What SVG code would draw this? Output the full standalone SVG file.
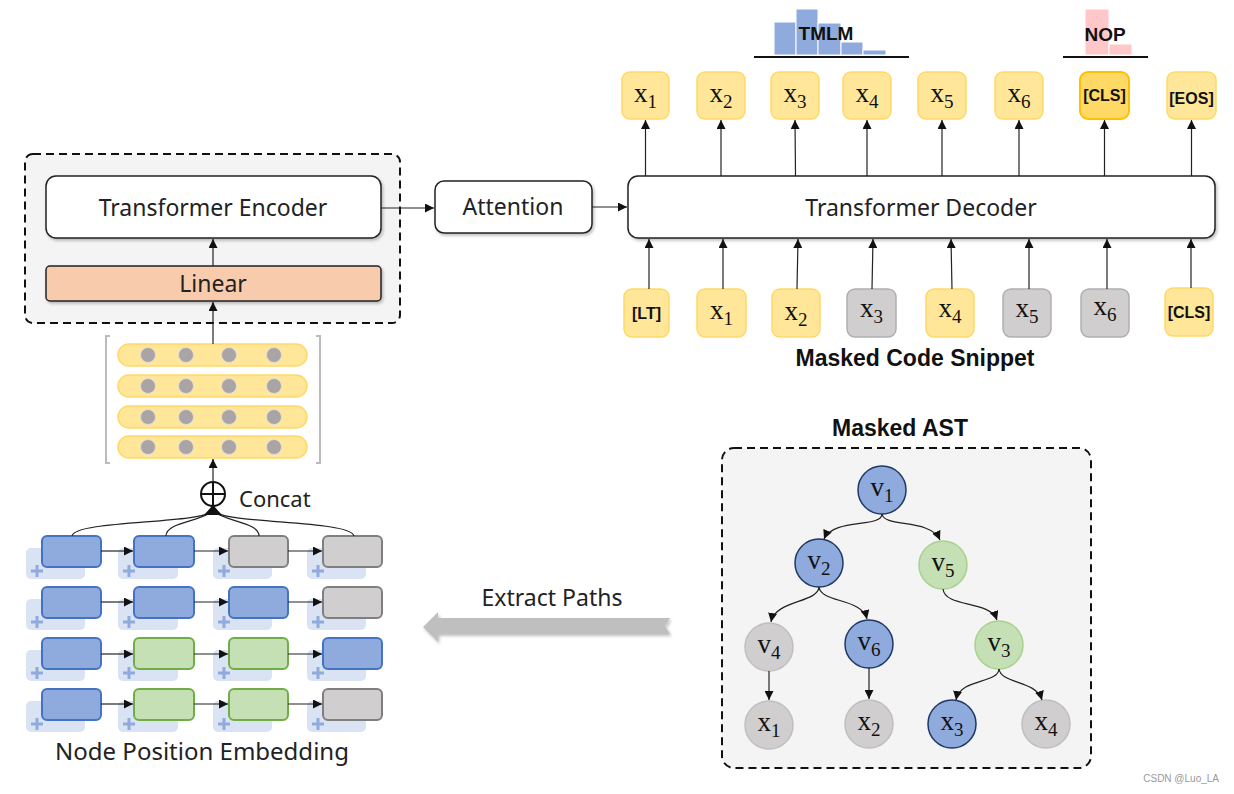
<svg xmlns="http://www.w3.org/2000/svg" width="1234" height="794" viewBox="0 0 1234 794">
<defs>
<style>
.lbl{font-family:"Noto Sans","Open Sans",sans-serif;font-size:23px;fill:#222;text-anchor:middle}
.bold{font-family:"Liberation Sans",Arial,sans-serif;font-weight:bold;fill:#111;text-anchor:middle}
.tk{font-size:16px}
.math{font-family:"Liberation Serif","DejaVu Serif",serif;font-size:27px;fill:#111;text-anchor:middle}
.sub{font-size:19px}
.tok{fill:#ffe699;stroke:#ffd966;stroke-width:1.5}
.tokg{fill:#d0cece;stroke:#b0b0b0;stroke-width:1.5}
.wbox{fill:#fff;stroke:#222;stroke-width:1.5}
.ln{stroke:#222;stroke-width:1.2;fill:none}
.pill{fill:#ffe699;stroke:#ffd966;stroke-width:1.5}
.dot{fill:#aaa4a4;stroke:#dedede;stroke-width:1}
.bshadow{fill:#dae3f3}
.plus{stroke:#8faadc;stroke-width:3}
.gb{fill:#8faadc;stroke:#4472c4;stroke-width:2}
.gg{fill:#c5e0b4;stroke:#70ad47;stroke-width:2}
.gy{fill:#d0cece;stroke:#7f7f7f;stroke-width:2}
.nb{fill:#8faadc;stroke:#1f3864;stroke-width:1.5}
.ng{fill:#c5e0b4;stroke:#a9d18e;stroke-width:1.5}
.ny{fill:#d0cece;stroke:#bfbfbf;stroke-width:1.5}
</style>
<marker id="ah" viewBox="0 0 10 10" refX="10" refY="5" markerWidth="9" markerHeight="9" markerUnits="userSpaceOnUse" orient="auto">
<path d="M0,0 L10,5 L0,10 z" fill="#111"/>
</marker>
<filter id="sh" x="-10%" y="-10%" width="130%" height="140%">
<feDropShadow dx="1.5" dy="2" stdDeviation="1.5" flood-color="#000" flood-opacity="0.25"/>
</filter>
</defs>

<!-- Encoder block -->
<g id="encoder-block">
<rect x="25" y="154" width="375" height="169" rx="8" fill="#f4f4f4" stroke="#111" stroke-width="2" stroke-dasharray="8,5"/>
</g>
<g id="transformer-encoder">
<rect class="wbox" x="46" y="176" width="335" height="62" rx="10" filter="url(#sh)"/>
<text class="lbl" x="213" y="216">Transformer Encoder</text>
</g>
<g id="linear">
<rect x="46" y="266" width="335" height="35" rx="4" fill="#f8cbad" stroke="#222" stroke-width="1.5" filter="url(#sh)"/>
<text class="lbl" x="213" y="292">Linear</text>
</g>

<!-- Embedding matrix -->
<g id="matrix">
<path d="M110,336 L106,336 L106,463 L110,463" fill="none" stroke="#bbb" stroke-width="2"/>
<path d="M316,336 L320,336 L320,463 L316,463" fill="none" stroke="#bbb" stroke-width="2"/>
<rect class="pill" x="118" y="344" width="189" height="22" rx="11"/>
<rect class="pill" x="118" y="375" width="189" height="22" rx="11"/>
<rect class="pill" x="118" y="406" width="189" height="22" rx="11"/>
<rect class="pill" x="118" y="436" width="189" height="22" rx="11"/>
<g>
<circle class="dot" cx="148" cy="355" r="7.5"/><circle class="dot" cx="186" cy="355" r="7.5"/><circle class="dot" cx="229" cy="355" r="7.5"/><circle class="dot" cx="274" cy="355" r="7.5"/>
<circle class="dot" cx="148" cy="386" r="7.5"/><circle class="dot" cx="186" cy="386" r="7.5"/><circle class="dot" cx="229" cy="386" r="7.5"/><circle class="dot" cx="274" cy="386" r="7.5"/>
<circle class="dot" cx="148" cy="417" r="7.5"/><circle class="dot" cx="186" cy="417" r="7.5"/><circle class="dot" cx="229" cy="417" r="7.5"/><circle class="dot" cx="274" cy="417" r="7.5"/>
<circle class="dot" cx="148" cy="447" r="7.5"/><circle class="dot" cx="186" cy="447" r="7.5"/><circle class="dot" cx="229" cy="447" r="7.5"/><circle class="dot" cx="274" cy="447" r="7.5"/>
</g>
</g>

<!-- Concat -->
<g id="concat">
<circle cx="213" cy="494" r="12" fill="#fff" stroke="#111" stroke-width="2"/>
<line x1="201" y1="494" x2="225" y2="494" stroke="#111" stroke-width="2"/>
<line x1="213" y1="482" x2="213" y2="506" stroke="#111" stroke-width="2"/>
<text class="lbl" x="239" y="507" style="text-anchor:start;font-size:22px">Concat</text>
</g>

<!-- Node position embedding grid -->
<g id="grid">
<g id="row1">
<rect class="bshadow" x="26" y="548" width="59" height="31" rx="5"/><rect class="bshadow" x="118" y="548" width="60" height="31" rx="5"/><rect class="bshadow" x="213" y="548" width="59" height="31" rx="5"/><rect class="bshadow" x="307" y="548" width="59" height="31" rx="5"/>
<rect class="gb" x="42" y="536" width="59" height="31" rx="5"/><rect class="gb" x="134" y="536" width="60" height="31" rx="5"/><rect class="gy" x="229" y="536" width="59" height="31" rx="5"/><rect class="gy" x="323" y="536" width="59" height="31" rx="5"/>
</g>
<g id="row2">
<rect class="bshadow" x="26" y="599" width="59" height="31" rx="5"/><rect class="bshadow" x="118" y="599" width="60" height="31" rx="5"/><rect class="bshadow" x="213" y="599" width="59" height="31" rx="5"/><rect class="bshadow" x="307" y="599" width="59" height="31" rx="5"/>
<rect class="gb" x="42" y="587" width="59" height="31" rx="5"/><rect class="gb" x="134" y="587" width="60" height="31" rx="5"/><rect class="gb" x="229" y="587" width="59" height="31" rx="5"/><rect class="gy" x="323" y="587" width="59" height="31" rx="5"/>
</g>
<g id="row3">
<rect class="bshadow" x="26" y="650" width="59" height="31" rx="5"/><rect class="bshadow" x="118" y="650" width="60" height="31" rx="5"/><rect class="bshadow" x="213" y="650" width="59" height="31" rx="5"/><rect class="bshadow" x="307" y="650" width="59" height="31" rx="5"/>
<rect class="gb" x="42" y="638" width="59" height="31" rx="5"/><rect class="gg" x="134" y="638" width="60" height="31" rx="5"/><rect class="gg" x="229" y="638" width="59" height="31" rx="5"/><rect class="gb" x="323" y="638" width="59" height="31" rx="5"/>
</g>
<g id="row4">
<rect class="bshadow" x="26" y="701" width="59" height="31" rx="5"/><rect class="bshadow" x="118" y="701" width="60" height="31" rx="5"/><rect class="bshadow" x="213" y="701" width="59" height="31" rx="5"/><rect class="bshadow" x="307" y="701" width="59" height="31" rx="5"/>
<rect class="gb" x="42" y="689" width="59" height="31" rx="5"/><rect class="gg" x="134" y="689" width="60" height="31" rx="5"/><rect class="gg" x="229" y="689" width="59" height="31" rx="5"/><rect class="gy" x="323" y="689" width="59" height="31" rx="5"/>
</g>
<g id="pluses">
<path class="plus" d="M31,571h12M37,565v12 M123,571h12M129,565v12 M218,571h12M224,565v12 M312,571h12M318,565v12 M31,622h12M37,616v12 M123,622h12M129,616v12 M218,622h12M224,616v12 M312,622h12M318,616v12 M31,673h12M37,667v12 M123,673h12M129,667v12 M218,673h12M224,667v12 M312,673h12M318,667v12 M31,724h12M37,718v12 M123,724h12M129,718v12 M218,724h12M224,718v12 M312,724h12M318,718v12"/>
</g>
<text class="lbl" x="202" y="760" style="font-size:24px">Node Position Embedding</text>
</g>

<!-- Attention -->
<g id="attention">
<rect class="wbox" x="435" y="181" width="157" height="52" rx="9" filter="url(#sh)"/>
<text class="lbl" x="513" y="215">Attention</text>
</g>

<!-- Decoder -->
<g id="transformer-decoder">
<rect class="wbox" x="628" y="176" width="587" height="62" rx="10" filter="url(#sh)"/>
<text class="lbl" x="921" y="216">Transformer Decoder</text>
</g>

<!-- Output tokens -->
<g id="outputs">
<rect class="tok" x="622" y="72" width="47" height="47" rx="8"/><text class="math" x="645.5" y="102">x<tspan class="sub" dy="6">1</tspan></text>
<rect class="tok" x="697" y="72" width="48" height="47" rx="8"/><text class="math" x="721" y="102">x<tspan class="sub" dy="6">2</tspan></text>
<rect class="tok" x="771" y="72" width="48" height="47" rx="8"/><text class="math" x="795" y="102">x<tspan class="sub" dy="6">3</tspan></text>
<rect class="tok" x="843" y="72" width="48" height="47" rx="8"/><text class="math" x="867" y="102">x<tspan class="sub" dy="6">4</tspan></text>
<rect class="tok" x="918" y="72" width="48" height="47" rx="8"/><text class="math" x="942" y="102">x<tspan class="sub" dy="6">5</tspan></text>
<rect class="tok" x="995" y="72" width="48" height="47" rx="8"/><text class="math" x="1019" y="102">x<tspan class="sub" dy="6">6</tspan></text>
<rect x="1080" y="72" width="49" height="47" rx="8" fill="#ffd966" stroke="#ffc000" stroke-width="2"/><text class="bold tk" x="1104.5" y="101">[CLS]</text>
<rect class="tok" x="1167" y="72" width="49" height="47" rx="8"/><text class="bold tk" x="1191.5" y="104">[EOS]</text>
</g>

<!-- Input tokens -->
<g id="inputs">
<rect class="tok" x="624" y="289" width="45" height="48" rx="8"/><text class="bold tk" x="646.5" y="319">[LT]</text>
<rect class="tok" x="697" y="289" width="49" height="48" rx="8"/><text class="math" x="721.5" y="319">x<tspan class="sub" dy="6">1</tspan></text>
<rect class="tok" x="772" y="289" width="48" height="48" rx="8"/><text class="math" x="796" y="320">x<tspan class="sub" dy="6">2</tspan></text>
<rect class="tokg" x="847" y="289" width="49" height="48" rx="8"/><text class="math" x="871.5" y="317">x<tspan class="sub" dy="6">3</tspan></text>
<rect class="tok" x="926" y="289" width="48" height="48" rx="8"/><text class="math" x="950" y="317">x<tspan class="sub" dy="6">4</tspan></text>
<rect class="tokg" x="1003" y="289" width="48" height="48" rx="8"/><text class="math" x="1027" y="317">x<tspan class="sub" dy="6">5</tspan></text>
<rect class="tokg" x="1081" y="289" width="48" height="48" rx="8"/><text class="math" x="1105" y="315">x<tspan class="sub" dy="6">6</tspan></text>
<rect class="tok" x="1165" y="288" width="48" height="48" rx="8"/><text class="bold tk" x="1189" y="318">[CLS]</text>
<text class="bold" x="915" y="366" style="font-size:23px">Masked Code Snippet</text>
</g>

<!-- Heads -->
<g id="tmlm">
<g fill="#8faadc" stroke="#fff" stroke-width="1">
<rect x="774" y="22" width="22" height="33"/><rect x="796" y="9" width="22" height="46"/><rect x="818" y="23" width="23" height="32"/><rect x="841" y="42" width="22" height="13"/><rect x="863" y="50" width="23" height="5"/>
</g>
<line x1="754" y1="57" x2="909" y2="57" stroke="#111" stroke-width="2"/>
<text class="bold" x="826" y="40" style="font-size:19px">TMLM</text>
</g>
<g id="nop">
<g fill="#ffc7c7" stroke="#fff" stroke-width="1">
<rect x="1085" y="9" width="24" height="46"/><rect x="1109" y="44" width="23" height="11"/>
</g>
<line x1="1063" y1="57" x2="1148" y2="57" stroke="#111" stroke-width="2"/>
<text class="bold" x="1105" y="41" style="font-size:19px">NOP</text>
</g>

<!-- Masked AST -->
<g id="ast-box">
<text class="bold" x="900" y="436" style="font-size:23px">Masked AST</text>
<rect x="722" y="448" width="369" height="320" rx="12" fill="#f4f4f4" stroke="#111" stroke-width="2" stroke-dasharray="8,5"/>
</g>
<g id="v1"><circle class="nb" cx="882" cy="490" r="24"/><text class="math" x="882" y="496">v<tspan class="sub" dy="6">1</tspan></text></g>
<g id="v2"><circle class="nb" cx="819" cy="563" r="24"/><text class="math" x="819" y="569">v<tspan class="sub" dy="6">2</tspan></text></g>
<g id="v5"><circle class="ng" cx="943" cy="565" r="24"/><text class="math" x="943" y="571">v<tspan class="sub" dy="6">5</tspan></text></g>
<g id="v4"><circle class="ny" cx="769" cy="647" r="24"/><text class="math" x="769" y="653">v<tspan class="sub" dy="6">4</tspan></text></g>
<g id="v6"><circle class="nb" cx="869" cy="644" r="24"/><text class="math" x="869" y="650">v<tspan class="sub" dy="6">6</tspan></text></g>
<g id="v3"><circle class="ng" cx="999" cy="645" r="24"/><text class="math" x="999" y="651">v<tspan class="sub" dy="6">3</tspan></text></g>
<g id="ax1"><circle class="ny" cx="769" cy="725" r="24"/><text class="math" x="769" y="731">x<tspan class="sub" dy="6">1</tspan></text></g>
<g id="ax2"><circle class="ny" cx="869" cy="724" r="24"/><text class="math" x="869" y="730">x<tspan class="sub" dy="6">2</tspan></text></g>
<g id="ax3"><circle class="nb" cx="952" cy="724" r="24"/><text class="math" x="952" y="730">x<tspan class="sub" dy="6">3</tspan></text></g>
<g id="ax4"><circle class="ny" cx="1046" cy="724" r="24"/><text class="math" x="1046" y="730">x<tspan class="sub" dy="6">4</tspan></text></g>

<!-- Extract Paths -->
<g id="extract-paths">
<polygon points="423,627 438,612 438,618 670,618 665,626 670,634 438,634 438,642" fill="#bfbfbf" filter="url(#sh)"/>
<text class="lbl" x="552" y="606">Extract Paths</text>
</g>

<!-- Connectors -->
<g id="connectors" class="ln">
<line x1="213" y1="266" x2="213" y2="239" marker-end="url(#ah)"/>
<line x1="213" y1="344" x2="213" y2="302" marker-end="url(#ah)"/>
<line x1="213" y1="482" x2="213" y2="459" marker-end="url(#ah)"/>
<line x1="381" y1="208" x2="434" y2="208" marker-end="url(#ah)"/>
<line x1="592" y1="207" x2="627" y2="207" marker-end="url(#ah)"/>
<!-- fan-in -->
<path d="M72,536 C75,520 200,524 213,511"/>
<path d="M166,536 C166,522 200,522 213,511"/>
<path d="M259,536 C259,522 226,522 213,511"/>
<path d="M354,536 C350,520 226,524 213,511"/>
<polygon points="213,505 204,515 222,515" fill="#111" stroke="none"/>
<!-- grid arrows -->
<line x1="101" y1="551" x2="133" y2="551" marker-end="url(#ah)"/><line x1="194" y1="551" x2="228" y2="551" marker-end="url(#ah)"/><line x1="288" y1="551" x2="322" y2="551" marker-end="url(#ah)"/>
<line x1="101" y1="602" x2="133" y2="602" marker-end="url(#ah)"/><line x1="194" y1="602" x2="228" y2="602" marker-end="url(#ah)"/><line x1="288" y1="602" x2="322" y2="602" marker-end="url(#ah)"/>
<line x1="101" y1="654" x2="133" y2="654" marker-end="url(#ah)"/><line x1="194" y1="654" x2="228" y2="654" marker-end="url(#ah)"/><line x1="288" y1="654" x2="322" y2="654" marker-end="url(#ah)"/>
<line x1="101" y1="704" x2="133" y2="704" marker-end="url(#ah)"/><line x1="194" y1="704" x2="228" y2="704" marker-end="url(#ah)"/><line x1="288" y1="704" x2="322" y2="704" marker-end="url(#ah)"/>
<!-- decoder outputs -->
<line x1="645.5" y1="176" x2="645.5" y2="120" marker-end="url(#ah)"/>
<line x1="721" y1="176" x2="721" y2="120" marker-end="url(#ah)"/>
<line x1="795.5" y1="176" x2="795" y2="120" marker-end="url(#ah)"/>
<line x1="867" y1="176" x2="867" y2="120" marker-end="url(#ah)"/>
<line x1="942" y1="176" x2="942" y2="120" marker-end="url(#ah)"/>
<line x1="1019" y1="176" x2="1019" y2="120" marker-end="url(#ah)"/>
<line x1="1104.5" y1="176" x2="1104.5" y2="120" marker-end="url(#ah)"/>
<line x1="1191.5" y1="176" x2="1191.5" y2="120" marker-end="url(#ah)"/>
<!-- decoder inputs -->
<line x1="649" y1="289" x2="649" y2="239" marker-end="url(#ah)"/>
<line x1="723" y1="289" x2="723" y2="239" marker-end="url(#ah)"/>
<line x1="797" y1="289" x2="798" y2="239" marker-end="url(#ah)"/>
<line x1="872" y1="289" x2="873" y2="239" marker-end="url(#ah)"/>
<line x1="952" y1="289" x2="951" y2="239" marker-end="url(#ah)"/>
<line x1="1029" y1="289" x2="1029" y2="239" marker-end="url(#ah)"/>
<line x1="1107" y1="289" x2="1107" y2="239" marker-end="url(#ah)"/>
<line x1="1191" y1="288" x2="1191" y2="239" marker-end="url(#ah)"/>
<!-- AST edges -->
<path d="M882,514 C882,528 833,518 824,539" marker-end="url(#ah)"/>
<path d="M882,514 C884,528 930,518 940,540" marker-end="url(#ah)"/>
<path d="M819,587 C818,603 775,600 771,622" marker-end="url(#ah)"/>
<path d="M819,587 C821,603 862,598 867,619" marker-end="url(#ah)"/>
<path d="M943,589 C945,608 990,600 997,620" marker-end="url(#ah)"/>
<path d="M999,669 C998,684 960,678 956,700" marker-end="url(#ah)"/>
<path d="M999,669 C1001,684 1036,680 1042,700" marker-end="url(#ah)"/>
<line x1="769" y1="671" x2="769" y2="700" marker-end="url(#ah)"/>
<line x1="869" y1="668" x2="869" y2="699" marker-end="url(#ah)"/>
</g>

<text x="1219" y="782" font-family="Liberation Sans, Arial, sans-serif" font-size="10" fill="#999" text-anchor="end">CSDN @Luo_LA</text>
</svg>
